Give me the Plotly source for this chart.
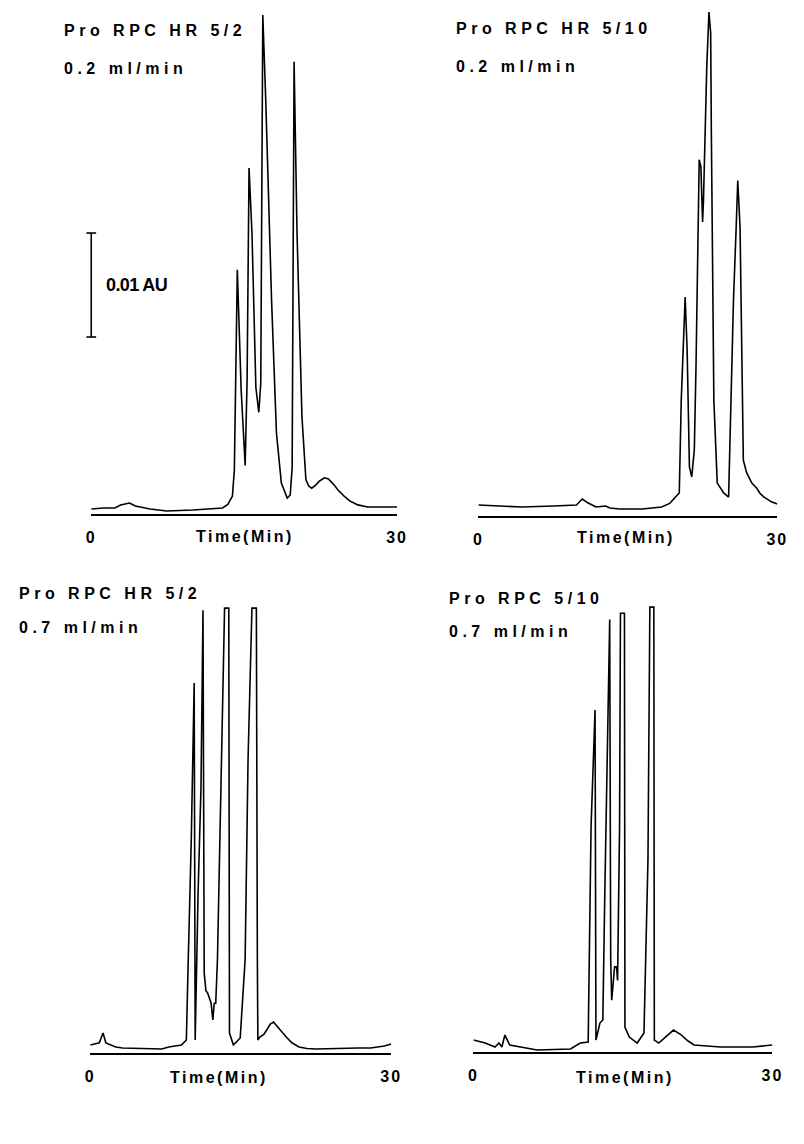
import plotly.graph_objects as go

W, H = 804, 1144
PX_PER_MAU = 10.4          # vertical recorder scale: 0.01 AU = 10 mAU

# ---------------- data (time in min, absorbance in mAU above baseline) ----------------
tl_time = [0.0, 1.2, 2.31, 2.88, 3.75, 4.33, 5.77, 7.40, 10.0, 12.88, 13.4, 13.85, 14.04, 14.33,
           14.71, 15.10, 15.29, 15.48, 15.77, 16.15, 16.44, 16.63, 16.83, 17.12, 17.69, 18.17,
           18.65, 19.23, 19.52, 19.71, 19.90, 20.19, 20.67, 21.06, 21.35, 21.63, 22.02, 22.40,
           22.88, 23.27, 23.75, 24.23, 24.81, 25.38, 26.15, 27.12, 28.56, 30.0]
tl_abs = [-0.1, 0.0, 0.0, 0.29, 0.48, 0.19, -0.1, -0.29, -0.19, 0.0, 0.35, 1.15, 3.65, 22.9,
          11.3, 4.1, 12.3, 32.7, 26.4, 11.6, 9.2, 12.0, 47.4, 39.2, 20.0, 7.2,
          2.4, 0.96, 1.25, 3.9, 42.9, 26.4, 8.8, 2.7, 2.1, 1.9, 2.2, 2.6,
          2.9, 2.8, 2.3, 1.7, 1.15, 0.67, 0.3, 0.1, 0.1, 0.1]

tr_time = [0.0, 2.95, 4.33, 7.57, 9.84, 10.43, 11.02, 11.80, 12.79, 13.18, 14.16, 16.43, 18.39,
           19.2, 19.67, 20.16, 20.36, 20.62, 20.75, 20.95, 21.18, 21.41, 21.67, 21.84, 22.06,
           22.16, 22.33, 22.50, 22.59, 22.72, 22.92, 23.14, 23.31, 23.38, 23.48, 23.63, 23.97,
           24.62, 25.11, 25.28, 25.60, 25.87, 26.03, 26.26, 26.43, 26.59, 26.92, 27.44, 27.94,
           28.23, 28.60, 28.92, 29.40, 30.0]
tr_abs = [0.19, 0.1, 0.0, 0.1, 0.19, 0.77, 0.38, 0.0, 0.1, -0.1, -0.19, -0.19, 0.0,
          0.35, 0.87, 1.35, 10.3, 16.7, 20.2, 15.1, 3.85, 2.9, 5.5, 13.5, 26.3,
          33.4, 32.7, 27.4, 29.5, 35.3, 42.3, 47.6, 45.6, 36.0, 26.3, 10.3, 2.3,
          1.35, 0.96, 7.1, 19.9, 26.9, 31.4, 26.9, 16.7, 4.5, 3.3, 2.3, 1.8,
          1.35, 1.0, 0.8, 0.5, 0.29]

bl_time = [0.0, 0.9, 1.27, 1.56, 2.54, 3.22, 7.13, 7.82, 9.09, 9.58, 9.77, 10.07, 10.36, 10.46,
           10.75, 11.04, 11.24, 11.36, 11.53, 11.70, 12.05, 12.22, 12.36, 12.51, 12.68, 13.00,
           13.26, 13.39, 13.81, 13.83, 13.88, 14.27, 14.95, 15.44, 15.73, 16.12, 16.56, 16.66,
           16.71, 16.91, 17.30, 17.59, 17.95, 18.27, 18.60, 19.00, 19.54, 20.10, 20.81, 21.60,
           22.48, 26.68, 27.95, 29.32, 30.0]
bl_abs = [0.29, 0.5, 1.44, 0.48, 0.1, 0.0, -0.1, 0.1, 0.29, 0.77, 8.5, 20.0, 35.1, 0.77,
          14.9, 25.1, 42.1, 7.2, 5.5, 5.3, 4.3, 2.7, 4.3, 4.3, 8.5, 22.8,
          37.3, 42.3, 42.3, 14.9, 1.44, 0.29, 0.96, 8.5, 27.7, 42.3, 42.3, 8.5,
          0.77, 1.06, 1.3, 1.73, 2.3, 2.5, 2.1, 1.6, 1.06, 0.5, 0.1, -0.05,
          -0.1, 0.0, 0.0, 0.19, 0.38]

br_time = [0.0, 1.18, 2.16, 2.56, 2.85, 3.15, 3.64, 5.11, 6.39, 9.74, 10.72, 11.51, 11.80, 12.20,
           12.29, 12.69, 12.98, 13.18, 13.67, 13.77, 13.87, 14.16, 14.36, 14.46, 14.66, 14.75,
           15.15, 15.20, 15.64, 16.43, 17.11, 17.51, 17.70, 18.10, 18.15, 18.59, 19.30, 20.07,
           20.80, 21.50, 22.13, 24.79, 28.03, 30.0]
br_abs = [0.67, 0.38, 0.0, 0.38, 0.0, 1.15, 0.19, -0.1, -0.29, -0.19, 0.38, 0.48, 21.2, 32.4,
          0.67, 2.3, 2.6, 14.8, 41.1, 8.4, 4.5, 7.7, 7.7, 6.4, 21.2, 41.7,
          41.7, 1.9, 0.96, 0.38, 1.35, 18.0, 42.3, 42.3, 0.67, 0.38, 1.0, 1.63,
          1.2, 0.6, 0.19, 0.0, 0.0, 0.19]

column_names = ["Pro RPC HR 5/2", "Pro RPC HR 5/10", "Pro RPC HR 5/2", "Pro RPC 5/10"]
flow_rates = ["0.2 ml/min", "0.2 ml/min", "0.7 ml/min", "0.7 ml/min"]
tick_values = [0, 30]
tick_labels = ["0", "30"]
axis_label = "Time(Min)"
SCALE_BAR_AU = 0.01

# ---------------- layout geometry (pixels) ----------------
panels = [
    dict(t=tl_time, a=tl_abs, x0=88, x1=400, ybot=514, ytop=0, base=508,
         tx=58, ty=31, fy=68, laby=536, timex=245),
    dict(t=tr_time, a=tr_abs, x0=483, x1=788, ybot=516, ytop=0, base=507,
         tx=458, ty=29, fy=66, laby=537, timex=634),
    dict(t=bl_time, a=bl_abs, x0=87, x1=394, ybot=1053, ytop=590, base=1048,
         tx=12, ty=593, fy=627, laby=1077, timex=218),
    dict(t=br_time, a=br_abs, x0=478, x1=783, ybot=1052, ytop=590, base=1047,
         tx=451, ty=598, fy=632, laby=1077, timex=633),
]

FONT = "Liberation Sans"


def spaced(s, ls):
    return '<span style="letter-spacing:%.1fpx">%s</span>' % (ls, s)


fig = go.Figure()
annotations = []
shapes = []

for i, p in enumerate(panels, start=1):
    xa = "x" if i == 1 else "x%d" % i
    ya = "y" if i == 1 else "y%d" % i
    fig.add_trace(go.Scatter(x=p["t"], y=p["a"], mode="lines", xaxis=xa, yaxis=ya,
                             line=dict(color="black", width=1.6), showlegend=False,
                             hoverinfo="skip"))
    xdom = [p["x0"] / W, p["x1"] / W]
    ydom = [1 - p["ybot"] / H, 1 - p["ytop"] / H]
    yr = [(p["base"] - p["ybot"]) / PX_PER_MAU, (p["base"] - p["ytop"]) / PX_PER_MAU]
    key = "" if i == 1 else str(i)
    fig.layout["xaxis" + key] = dict(
        domain=xdom, range=[0, 30], anchor=ya, showgrid=False, zeroline=False,
        showline=True, linecolor="black", linewidth=1.5,
        tickvals=tick_values, ticktext=[spaced(s, 2) for s in tick_labels],
        ticks="inside", ticklen=5, tickwidth=1.5, tickcolor="black",
        tickfont=dict(family=FONT, size=16, color="black", weight="bold"),
        ticklabelstandoff=8, fixedrange=True)
    fig.layout["yaxis" + key] = dict(
        domain=ydom, range=yr, anchor=xa, visible=False, fixedrange=True)

    annotations.append(dict(x=p["timex"] / W, y=1 - p["laby"] / H, xref="paper", yref="paper",
                            text=spaced(axis_label, 2.5), showarrow=False,
                            xanchor="center", yanchor="middle",
                            font=dict(family=FONT, size=16, color="black", weight="bold")))
    annotations.append(dict(x=p["tx"] / W, y=1 - p["ty"] / H, xref="paper", yref="paper",
                            text=spaced(column_names[i - 1], 4.5), showarrow=False,
                            xanchor="left", yanchor="middle",
                            font=dict(family=FONT, size=16, color="black", weight="bold")))
    annotations.append(dict(x=p["tx"] / W, y=1 - p["fy"] / H, xref="paper", yref="paper",
                            text=spaced(flow_rates[i - 1], 4.5), showarrow=False,
                            xanchor="left", yanchor="middle",
                            font=dict(family=FONT, size=16, color="black", weight="bold")))

# scale bar (0.01 AU) in the first panel
bar_bottom = 16.44
bar_top = bar_bottom + SCALE_BAR_AU * 1000
bx = 88
shapes.append(dict(type="line", xref="paper", yref="y", x0=bx / W, x1=bx / W,
                   y0=bar_bottom, y1=bar_top, line=dict(color="black", width=1.6)))
for yy in (bar_bottom, bar_top):
    shapes.append(dict(type="line", xref="paper", yref="y", x0=(bx - 5) / W, x1=(bx + 5) / W,
                       y0=yy, y1=yy, line=dict(color="black", width=1.6)))
annotations.append(dict(x=101 / W, y=(bar_bottom + bar_top) / 2, xref="paper", yref="y",
                        text=spaced("%g AU" % SCALE_BAR_AU, -0.6), showarrow=False,
                        xanchor="left", yanchor="middle",
                        font=dict(family=FONT, size=18, color="black", weight="bold")))

fig.update_layout(width=W, height=H, margin=dict(l=0, r=0, t=0, b=0),
                  paper_bgcolor="white", plot_bgcolor="white",
                  annotations=annotations, shapes=shapes, showlegend=False)

fig.write_html("out.html", config={"displayModeBar": False})
